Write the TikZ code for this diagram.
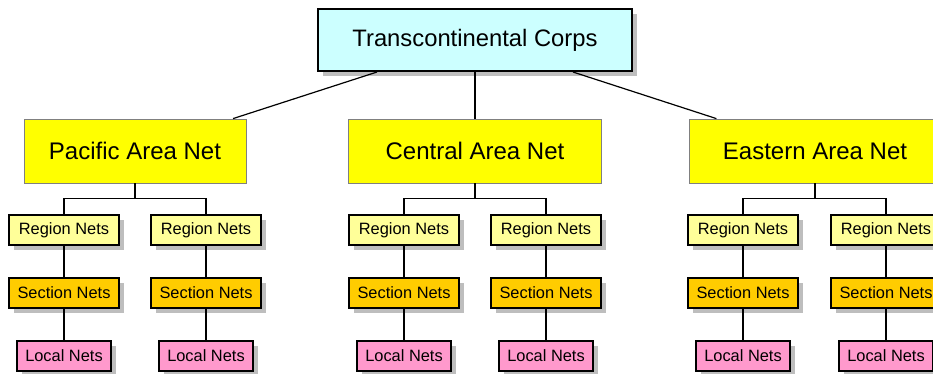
\documentclass[tikz,border=0pt]{standalone}
\usepackage{fontspec}
\setmainfont{Liberation Sans}
\usetikzlibrary{shadows,calc}
\definecolor{topfill}{HTML}{CCFFFF}
\definecolor{areafill}{HTML}{FFFF00}
\definecolor{regfill}{HTML}{FFFF99}
\definecolor{secfill}{HTML}{FFCC00}
\definecolor{locfill}{HTML}{FF99CC}
\definecolor{shadowgray}{HTML}{BEBEBE}
\definecolor{areaborder}{HTML}{808080}
\tikzset{
  topbox/.style={draw=black, line width=2pt, fill=topfill, minimum width=314pt, minimum height=62pt, inner sep=0pt,
    drop shadow={shadow xshift=5pt, shadow yshift=-5pt, fill=shadowgray, opacity=1},
    font=\fontsize{23.8}{28}\selectfont},
  areabox/.style={draw=areaborder, line width=0.8pt, fill=areafill, minimum height=64pt, inner sep=0pt,
    font=\fontsize{24}{28}\selectfont},
  smallbox/.style={draw=black, line width=1.2pt, minimum height=30pt, inner sep=0pt,
    drop shadow={shadow xshift=5pt, shadow yshift=-5pt, fill=shadowgray, opacity=1},
    font=\fontsize{16.4}{19}\selectfont},
  regbox/.style={smallbox, fill=regfill, minimum width=110pt},
  secbox/.style={smallbox, fill=secfill, minimum width=110pt},
  locbox/.style={smallbox, fill=locfill, minimum width=94pt},
  conn/.style={draw=black, line width=1.2pt}
}
\begin{document}
\begin{tikzpicture}[x=1pt,y=-1pt]
\clip (0,0) rectangle (933,373);
\fill[white] (0,0) rectangle (933,373);
\node[topbox] (top) at (475,40) {Transcontinental Corps};
\node[areabox, minimum width=222pt] (pac) at (135,151) {Pacific Area Net};
\node[areabox, minimum width=253pt] (cen) at (475,151) {Central Area Net};
\node[areabox, minimum width=252pt] (eas) at (815,151) {Eastern Area Net};
\draw[conn] ($(top.south west)!0.19!(top.south east)$) -- ($(pac.north west)!0.94!(pac.north east)$);
\draw[conn] (top.south) -- (cen.north);
\draw[conn] ($(top.south west)!0.81!(top.south east)$) -- ($(eas.north west)!0.11!(eas.north east)$);
\foreach \a/\xa/\xb in {pac/64/206, cen/404/546, eas/743/886}{
  \node[regbox] (\a r1) at (\xa,230) {Region Nets};
  \node[regbox] (\a r2) at (\xb,230) {Region Nets};
  \node[secbox] (\a s1) at (\xa,293) {Section Nets};
  \node[secbox] (\a s2) at (\xb,293) {Section Nets};
  \node[locbox] (\a l1) at (\xa,356) {Local Nets};
  \node[locbox] (\a l2) at (\xb,356) {Local Nets};
  \coordinate (\a j) at ($(\a.south)+(0,15)$);
  \draw[conn] (\a.south) -- (\a j);
  \draw[conn] (\a r1.north) |- (\a j) -| (\a r2.north);
  \draw[conn] (\a r1) -- (\a s1);
  \draw[conn] (\a r2) -- (\a s2);
  \draw[conn] (\a s1) -- (\a l1);
  \draw[conn] (\a s2) -- (\a l2);
}
\end{tikzpicture}
\end{document}
